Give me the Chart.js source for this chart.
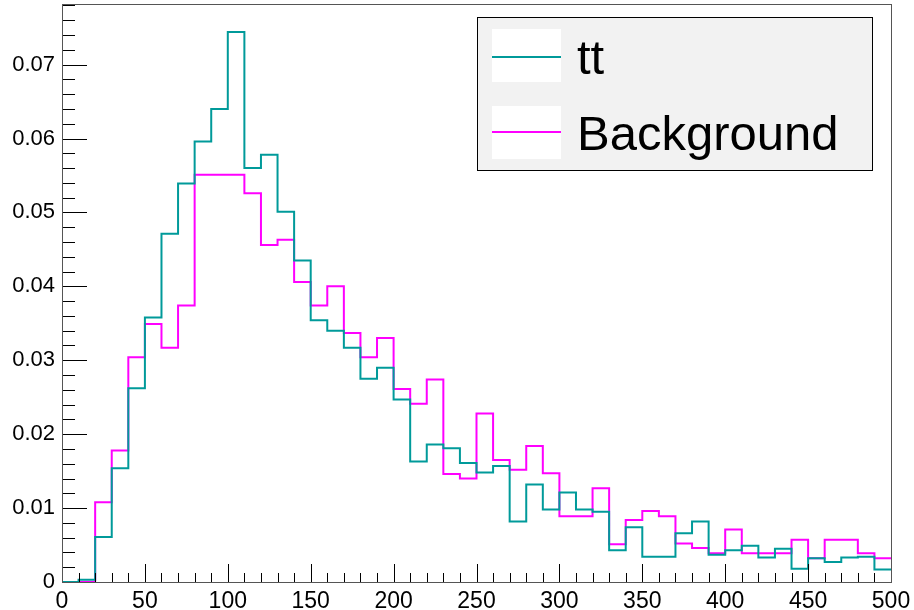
<!DOCTYPE html>
<html>
<head>
<meta charset="utf-8">
<script src="https://cdn.jsdelivr.net/npm/chart.js@4.4.1/dist/chart.umd.min.js"></script>
<style>
  html, body { margin: 0; padding: 0; background: #ffffff; }
  #wrap { width: 914px; height: 610px; }
</style>
</head>
<body>
<div id="wrap"><canvas id="histChart" width="914" height="610"></canvas></div>
<script>
// bin low edges (last entry is the upper edge of the final bin)
var binEdges = [0, 10, 20, 30, 40, 50, 60, 70, 80, 90,
  100, 110, 120, 130, 140, 150, 160, 170, 180, 190,
  200, 210, 220, 230, 240, 250, 260, 270, 280, 290,
  300, 310, 320, 330, 340, 350, 360, 370, 380, 390,
  400, 410, 420, 430, 440, 450, 460, 470, 480, 490, 500];

var ttValues = [0, 0.0003, 0.0061, 0.0154, 0.0262, 0.0358, 0.0471, 0.0539, 0.0596, 0.0640,
  0.0744, 0.0560, 0.0578, 0.0501, 0.0435, 0.0354, 0.0340, 0.0317, 0.0275, 0.0290,
  0.0247, 0.0163, 0.0186, 0.0181, 0.0161, 0.0148, 0.0157, 0.0082, 0.0132, 0.0098,
  0.0121, 0.0098, 0.0095, 0.0043, 0.0074, 0.0034, 0.0034, 0.0066, 0.0082, 0.0037,
  0.0043, 0.0049, 0.0033, 0.0045, 0.0018, 0.0032, 0.0027, 0.0033, 0.0034, 0.0017];

var bkgValues = [0, 0, 0.0108, 0.0178, 0.0304, 0.0349, 0.0317, 0.0374, 0.0551, 0.0551,
  0.0551, 0.0526, 0.0456, 0.0463, 0.0406, 0.0374, 0.0400, 0.0337, 0.0304, 0.0330,
  0.0261, 0.0241, 0.0274, 0.0146, 0.0140, 0.0228, 0.0165, 0.0152, 0.0184, 0.0147,
  0.0089, 0.0089, 0.0127, 0.0051, 0.0084, 0.0096, 0.0089, 0.0052, 0.0046, 0.0039,
  0.0071, 0.0039, 0.0039, 0.0039, 0.0057, 0.0032, 0.0057, 0.0057, 0.0039, 0.0032];

var xTickValues = [0, 50, 100, 150, 200, 250, 300, 350, 400, 450, 500];
var yTickValues = [0, 0.01, 0.02, 0.03, 0.04, 0.05, 0.06, 0.07];

var seriesNames = ["tt", "Background"];
var seriesColors = ["#009a9a", "#ff00ff"];

function toSteps(values) {
  return binEdges.map(function (edge, i) {
    return { x: edge, y: i < values.length ? values[i] : values[values.length - 1] };
  });
}

function noPadding(scale) {
  scale.paddingTop = 0;
  scale.paddingBottom = 0;
  scale.paddingLeft = 0;
  scale.paddingRight = 0;
}

// ROOT-like frame with inner ticks
var framePlugin = {
  id: "frame",
  afterDatasetsDraw: function (chart) {
    var ctx = chart.ctx;
    var a = chart.chartArea;
    var xs = chart.scales.x;
    var ys = chart.scales.y;
    ctx.save();
    ctx.strokeStyle = "#000000";
    ctx.lineWidth = 1;
    ctx.beginPath();
    // y ticks: major every 0.01, minor every 0.002
    for (var v = 0; v <= ys.max + 1e-9; v += 0.002) {
      var py = Math.round(ys.getPixelForValue(v)) + 0.5;
      var major = Math.abs(v / 0.01 - Math.round(v / 0.01)) < 1e-6;
      ctx.moveTo(a.left, py);
      ctx.lineTo(a.left + (major ? 25 : 13), py);
    }
    // x ticks: major every 50, minor every 10
    for (var xv = 0; xv <= 500; xv += 10) {
      var px = Math.round(xs.getPixelForValue(xv)) + 0.5;
      var len = xv % 50 === 0 ? 18 : 9;
      ctx.moveTo(px, a.bottom);
      ctx.lineTo(px, a.bottom - len);
    }
    ctx.stroke();
    ctx.strokeStyle = "#555555";
    ctx.strokeRect(Math.round(a.left) + 0.5, Math.round(a.top) + 0.5,
      Math.round(a.right - a.left), Math.round(a.bottom - a.top));
    ctx.restore();
  }
};

var legendPlugin = {
  id: "rootLegend",
  afterDraw: function (chart) {
    var ctx = chart.ctx;
    ctx.save();
    ctx.fillStyle = "#f2f2f2";
    ctx.fillRect(477, 17, 395, 153);
    ctx.strokeStyle = "#000000";
    ctx.lineWidth = 1;
    ctx.strokeRect(477.5, 17.5, 395, 153);
    var rows = [{ box: 29, line: 57, base: 74 }, { box: 106, line: 132, base: 150 }];
    ctx.font = "49px 'Liberation Sans', Arial, sans-serif";
    ctx.textBaseline = "alphabetic";
    for (var i = 0; i < rows.length; i++) {
      ctx.fillStyle = "#ffffff";
      ctx.fillRect(492, rows[i].box, 69, 53);
      ctx.strokeStyle = seriesColors[i];
      ctx.lineWidth = 2;
      ctx.beginPath();
      ctx.moveTo(492, rows[i].line);
      ctx.lineTo(561, rows[i].line);
      ctx.stroke();
      ctx.fillStyle = "#000000";
      ctx.fillText(seriesNames[i], 577, rows[i].base);
    }
    ctx.restore();
  }
};

var ctx = document.getElementById("histChart");

var chart = new Chart(ctx, {
  type: "line",
  data: {
    datasets: [
      {
        label: seriesNames[0],
        data: toSteps(ttValues),
        borderColor: seriesColors[0],
        borderWidth: 2,
        pointRadius: 0,
        stepped: "before",
        fill: false
      },
      {
        label: seriesNames[1],
        data: toSteps(bkgValues),
        borderColor: seriesColors[1],
        borderWidth: 2,
        pointRadius: 0,
        stepped: "before",
        fill: false
      }
    ]
  },
  options: {
    responsive: false,
    animation: false,
    devicePixelRatio: 1,
    layout: { padding: { top: 4, right: 23, left: 0, bottom: 0 } },
    plugins: {
      legend: { display: false },
      tooltip: { enabled: false }
    },
    scales: {
      x: {
        type: "linear",
        min: 0,
        max: 500,
        grid: { display: false, drawTicks: false },
        border: { display: false },
        afterBuildTicks: function (scale) {
          scale.ticks = xTickValues.map(function (v) { return { value: v }; });
        },
        afterFit: function (scale) { scale.height = 28; noPadding(scale); },
        ticks: {
          color: "#000000",
          padding: 6,
          maxRotation: 0,
          autoSkip: false,
          font: { family: "'Liberation Sans', Arial, sans-serif", size: 23 }
        }
      },
      y: {
        min: 0,
        max: 0.0782,
        grid: { display: false, drawTicks: false },
        border: { display: false },
        afterBuildTicks: function (scale) {
          scale.ticks = yTickValues.map(function (v) { return { value: v }; });
        },
        afterFit: function (scale) { scale.width = 62; noPadding(scale); },
        ticks: {
          color: "#000000",
          padding: 7,
          autoSkip: false,
          font: { family: "'Liberation Sans', Arial, sans-serif", size: 22 },
          callback: function (value) {
            return value === 0 ? "0" : value.toFixed(2);
          }
        }
      }
    }
  },
  plugins: [framePlugin, legendPlugin]
});
</script>
</body>
</html>
